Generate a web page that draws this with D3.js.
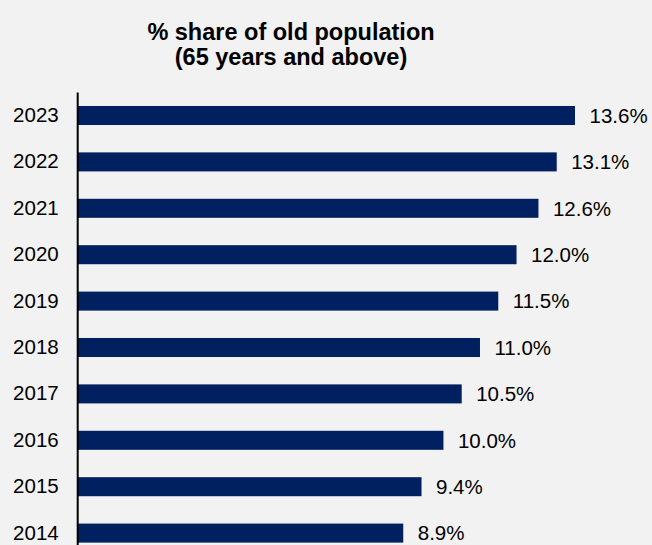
<!DOCTYPE html>
<html>
<head>
<meta charset="utf-8">
<script src="https://cdn.jsdelivr.net/npm/d3@7"></script>
<style>
  html, body { margin: 0; padding: 0; background: #f2f2f2; }
  svg { display: block; }
  text { font-family: "Liberation Sans", Arial, sans-serif; }
</style>
</head>
<body>
<svg id="chart" width="652" height="545"></svg>
<script>
// Share of population aged 65 and above, by year
const years = ["2023", "2022", "2021", "2020", "2019", "2018", "2017", "2016", "2015", "2014"];
const shares = [13.6, 13.1, 12.6, 12.0, 11.5, 11.0, 10.5, 10.0, 9.4, 8.9];
const titleLines = ["% share of old population", "(65 years and above)"];

const data = years.map((y, i) => ({ year: y, value: shares[i] }));

const W = 652, H = 545;
const svg = d3.select("#chart");

svg.append("rect").attr("width", W).attr("height", H).attr("fill", "#f2f2f2");

// Scales
const x = d3.scaleLinear().domain([0, 13.6]).range([78, 575]);
const y = d3.scaleBand()
  .domain(years)
  .range([92.3, 556.3])
  .paddingInner(0.59)
  .paddingOuter(0.295);

// Title
const title = svg.append("text")
  .attr("x", 291)
  .attr("y", 39.5)
  .attr("text-anchor", "middle")
  .attr("font-size", "23.5px")
  .attr("font-weight", "bold")
  .attr("fill", "#000");
title.selectAll("tspan")
  .data(titleLines)
  .join("tspan")
  .attr("x", 291)
  .attr("dy", (d, i) => i === 0 ? 0 : 25)
  .text(d => d);

// Bars
svg.append("g")
  .selectAll("rect")
  .data(data)
  .join("rect")
  .attr("x", x(0))
  .attr("y", d => y(d.year))
  .attr("width", d => x(d.value) - x(0))
  .attr("height", y.bandwidth())
  .attr("fill", "#002060");

// Value labels
svg.append("g")
  .selectAll("text")
  .data(data)
  .join("text")
  .attr("x", d => x(d.value) + 14.5)
  .attr("y", d => y(d.year) + y.bandwidth() / 2)
  .attr("dy", "0.36em")
  .attr("font-size", "20.5px")
  .attr("fill", "#000")
  .text(d => d.value.toFixed(1) + "%");

// Category axis
const yAxis = d3.axisLeft(y).tickSize(0).tickPadding(19);
const gy = svg.append("g")
  .attr("transform", "translate(77.7,0)")
  .call(yAxis);
gy.select(".domain").remove();
gy.selectAll("text")
  .attr("font-size", "20.5px")
  .attr("font-family", "'Liberation Sans', Arial, sans-serif")
  .attr("fill", "#000");

gy.append("line")
  .attr("x1", 0).attr("x2", 0)
  .attr("y1", 92.5).attr("y2", 560)
  .attr("stroke", "#000")
  .attr("stroke-width", 2);
</script>
</body>
</html>
